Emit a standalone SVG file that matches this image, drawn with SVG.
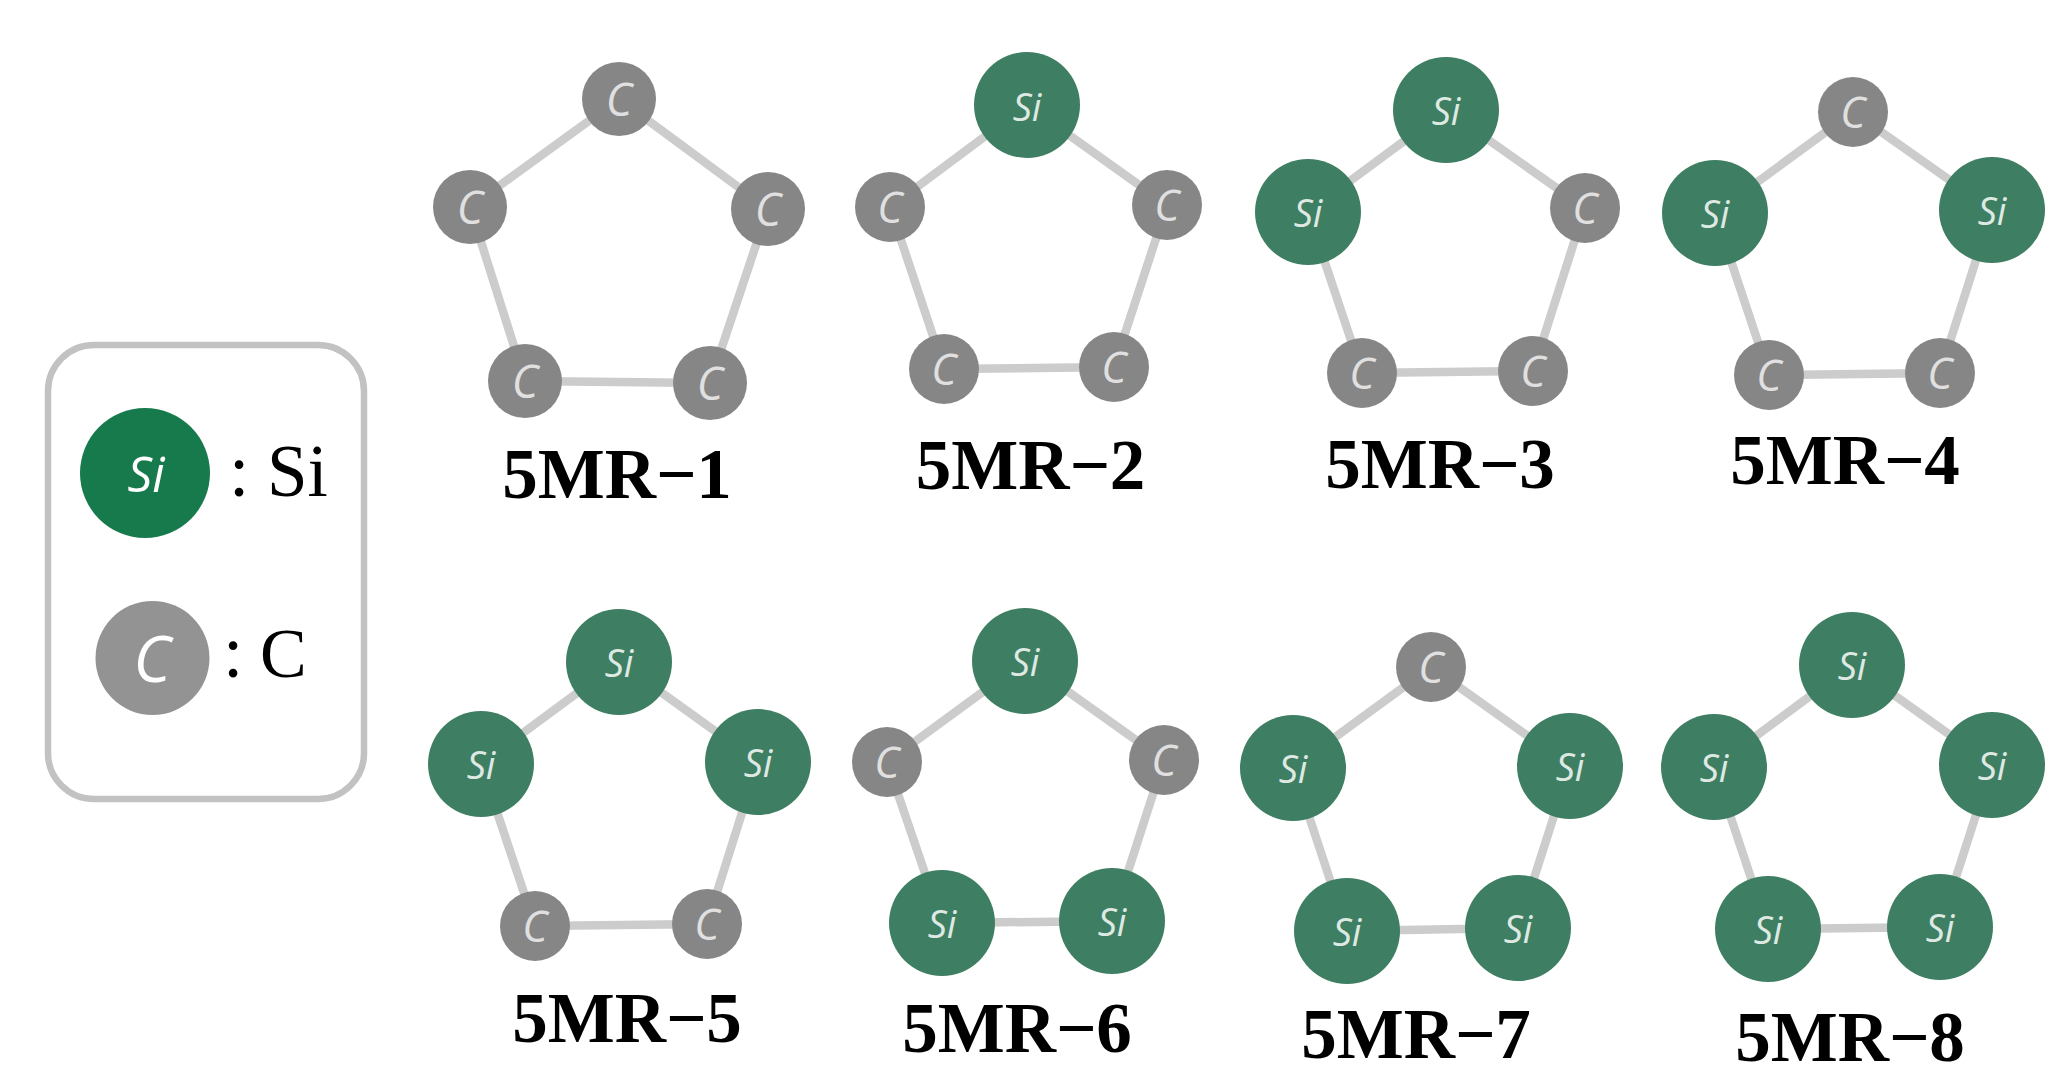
<svg xmlns="http://www.w3.org/2000/svg" width="2070" height="1084" viewBox="0 0 2070 1084">
<style>
.si{fill:#3e7e62}
.c{fill:#868686}
.e{fill:none;stroke:#cccccc;stroke-width:8.5}
.ts,.tc{font-family:"Open Sans","Noto Sans",sans-serif;font-style:italic;font-weight:400;fill:#dfe9e3;text-anchor:middle}
.ts{font-size:38px}
.tc{font-size:43px;fill:#e0e0e0}
.lab{font-family:"Liberation Serif",serif;font-weight:700;font-size:71px;fill:#000;text-anchor:middle}
.leg{font-family:"Liberation Serif",serif;font-size:73px;fill:#000}
</style>
<rect width="2070" height="1084" fill="#ffffff"/>
<g id="connectors">
<polygon class="e" points="619,99 768,209 710,383 525,381 470,207"/>
<polygon class="e" points="1027,105 1167,205 1114,367 944,369 890,207"/>
<polygon class="e" points="1446,110 1585,208 1533,371 1362,373 1308,212"/>
<polygon class="e" points="1853,112 1992,210 1940,373 1769,375 1715,213"/>
<polygon class="e" points="619,662 758,762 707,924 535,926 481,764"/>
<polygon class="e" points="1025,661 1164,760 1112,921 942,923 887,762"/>
<polygon class="e" points="1431,667 1570,766 1518,928 1347,931 1293,768"/>
<polygon class="e" points="1852,665 1992,765 1940,927 1768,929 1714,767"/>
</g>
<g id="legend">
<rect x="48" y="345" width="316" height="454" rx="46" fill="none" stroke="#c2c2c2" stroke-width="6.5"/>
<circle cx="145" cy="473" r="65" fill="#177a4c"/>
<text class="ts" style="font-size:49px;fill:#fff" x="146" y="492">Si</text>
<text class="leg" x="229" y="496">:</text>
<text class="leg" x="267" y="496">Si</text>
<circle cx="152.500" cy="658" r="57" fill="#939393"/>
<text class="tc" style="font-size:64px;fill:#fff" x="152" y="682">C</text>
<text class="leg" x="223" y="677">:</text>
<text class="leg" x="260" y="677" style="font-size:70px">C</text>
</g>
<g id="mr1">
<g id="mr1-a"><circle class="c" cx="619" cy="99" r="37"/><text class="tc" style="font-size:45px" x="619" y="116">C</text></g>
<g id="mr1-b"><circle class="c" cx="768" cy="209" r="37"/><text class="tc" style="font-size:45px" x="768" y="226">C</text></g>
<g id="mr1-c"><circle class="c" cx="710" cy="383" r="37"/><text class="tc" style="font-size:45px" x="710" y="400">C</text></g>
<g id="mr1-d"><circle class="c" cx="525" cy="381" r="37"/><text class="tc" style="font-size:45px" x="525" y="398">C</text></g>
<g id="mr1-e"><circle class="c" cx="470" cy="207" r="37"/><text class="tc" style="font-size:45px" x="470" y="224">C</text></g>
<text class="lab" x="617" y="498">5MR−1</text>
</g>
<g id="mr2">
<g id="mr2-a"><circle class="si" cx="1027" cy="105" r="53"/><text class="ts" x="1027" y="121">Si</text></g>
<g id="mr2-b"><circle class="c" cx="1167" cy="205" r="35"/><text class="tc" x="1167" y="221">C</text></g>
<g id="mr2-c"><circle class="c" cx="1114" cy="367" r="35"/><text class="tc" x="1114" y="383">C</text></g>
<g id="mr2-d"><circle class="c" cx="944" cy="369" r="35"/><text class="tc" x="944" y="385">C</text></g>
<g id="mr2-e"><circle class="c" cx="890" cy="207" r="35"/><text class="tc" x="890" y="223">C</text></g>
<text class="lab" x="1030.500" y="489">5MR−2</text>
</g>
<g id="mr3">
<g id="mr3-a"><circle class="si" cx="1446" cy="110" r="53"/><text class="ts" x="1446" y="125">Si</text></g>
<g id="mr3-b"><circle class="c" cx="1585" cy="208" r="35"/><text class="tc" x="1585" y="224">C</text></g>
<g id="mr3-c"><circle class="c" cx="1533" cy="371" r="35"/><text class="tc" x="1533" y="387">C</text></g>
<g id="mr3-d"><circle class="c" cx="1362" cy="373" r="35"/><text class="tc" x="1362" y="389">C</text></g>
<g id="mr3-e"><circle class="si" cx="1308" cy="212" r="53"/><text class="ts" x="1308" y="227">Si</text></g>
<text class="lab" x="1440" y="488">5MR−3</text>
</g>
<g id="mr4">
<g id="mr4-a"><circle class="c" cx="1853" cy="112" r="35"/><text class="tc" x="1853" y="128">C</text></g>
<g id="mr4-b"><circle class="si" cx="1992" cy="210" r="53"/><text class="ts" x="1992" y="225">Si</text></g>
<g id="mr4-c"><circle class="c" cx="1940" cy="373" r="35"/><text class="tc" x="1940" y="389">C</text></g>
<g id="mr4-d"><circle class="c" cx="1769" cy="375" r="35"/><text class="tc" x="1769" y="391">C</text></g>
<g id="mr4-e"><circle class="si" cx="1715" cy="213" r="53"/><text class="ts" x="1715" y="228">Si</text></g>
<text class="lab" x="1845" y="484">5MR−4</text>
</g>
<g id="mr5">
<g id="mr5-a"><circle class="si" cx="619" cy="662" r="53"/><text class="ts" x="619" y="677">Si</text></g>
<g id="mr5-b"><circle class="si" cx="758" cy="762" r="53"/><text class="ts" x="758" y="777">Si</text></g>
<g id="mr5-c"><circle class="c" cx="707" cy="924" r="35"/><text class="tc" x="707" y="940">C</text></g>
<g id="mr5-d"><circle class="c" cx="535" cy="926" r="35"/><text class="tc" x="535" y="942">C</text></g>
<g id="mr5-e"><circle class="si" cx="481" cy="764" r="53"/><text class="ts" x="481" y="779">Si</text></g>
<text class="lab" x="627" y="1042">5MR−5</text>
</g>
<g id="mr6">
<g id="mr6-a"><circle class="si" cx="1025" cy="661" r="53"/><text class="ts" x="1025" y="676">Si</text></g>
<g id="mr6-b"><circle class="c" cx="1164" cy="760" r="35"/><text class="tc" x="1164" y="776">C</text></g>
<g id="mr6-c"><circle class="si" cx="1112" cy="921" r="53"/><text class="ts" x="1112" y="936">Si</text></g>
<g id="mr6-d"><circle class="si" cx="942" cy="923" r="53"/><text class="ts" x="942" y="938">Si</text></g>
<g id="mr6-e"><circle class="c" cx="887" cy="762" r="35"/><text class="tc" x="887" y="778">C</text></g>
<text class="lab" x="1017" y="1052">5MR−6</text>
</g>
<g id="mr7">
<g id="mr7-a"><circle class="c" cx="1431" cy="667" r="35"/><text class="tc" x="1431" y="683">C</text></g>
<g id="mr7-b"><circle class="si" cx="1570" cy="766" r="53"/><text class="ts" x="1570" y="781">Si</text></g>
<g id="mr7-c"><circle class="si" cx="1518" cy="928" r="53"/><text class="ts" x="1518" y="943">Si</text></g>
<g id="mr7-d"><circle class="si" cx="1347" cy="931" r="53"/><text class="ts" x="1347" y="946">Si</text></g>
<g id="mr7-e"><circle class="si" cx="1293" cy="768" r="53"/><text class="ts" x="1293" y="783">Si</text></g>
<text class="lab" x="1416" y="1058">5MR−7</text>
</g>
<g id="mr8">
<g id="mr8-a"><circle class="si" cx="1852" cy="665" r="53"/><text class="ts" x="1852" y="680">Si</text></g>
<g id="mr8-b"><circle class="si" cx="1992" cy="765" r="53"/><text class="ts" x="1992" y="780">Si</text></g>
<g id="mr8-c"><circle class="si" cx="1940" cy="927" r="53"/><text class="ts" x="1940" y="942">Si</text></g>
<g id="mr8-d"><circle class="si" cx="1768" cy="929" r="53"/><text class="ts" x="1768" y="944">Si</text></g>
<g id="mr8-e"><circle class="si" cx="1714" cy="767" r="53"/><text class="ts" x="1714" y="782">Si</text></g>
<text class="lab" x="1850" y="1061">5MR−8</text>
</g>
</svg>
